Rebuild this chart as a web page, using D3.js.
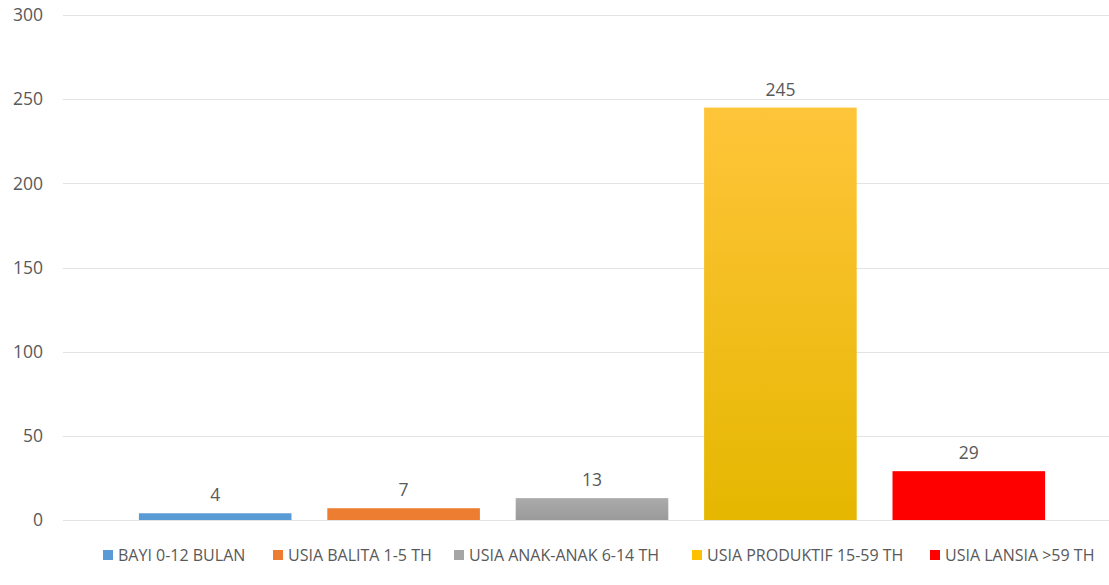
<!DOCTYPE html>
<html>
<head>
<meta charset="utf-8">
<script src="https://cdn.jsdelivr.net/npm/d3@7"></script>
<style>
  body { margin: 0; background: #fff; }
  svg { display: block; font-family: "Open Sans", sans-serif; }
</style>
</head>
<body>
<div id="chart"></div>
<script>
// data
const categories = ["BAYI 0-12 BULAN", "USIA BALITA 1-5 TH", "USIA ANAK-ANAK 6-14 TH", "USIA PRODUKTIF 15-59 TH", "USIA LANSIA >59 TH"]
const values = [4, 7, 13, 245, 29]
const yTicks = [0, 50, 100, 150, 200, 250, 300]

const colors = ["#5B9BD5", "#ED7D31", "#A5A5A5", "#FFC000", "#FF0000"]
// top / bottom of the gradient fills
const gradTop = ["#5B9BD5", "#ED7D31", "#ABABAB", "#FFC53A", "#FF0000"]
const gradBottom = ["#5B9BD5", "#ED7D31", "#9A9A9A", "#E5B700", "#FF0000"]

const width = 1109, height = 585

const svg = d3.select("#chart").append("svg")
    .attr("width", width)
    .attr("height", height)

const defs = svg.append("defs")
categories.forEach(function (c, i) {
    const g = defs.append("linearGradient")
        .attr("id", "grad" + i)
        .attr("x1", 0).attr("y1", 0).attr("x2", 0).attr("y2", 1)
    g.append("stop").attr("offset", "0%").attr("stop-color", gradTop[i])
    g.append("stop").attr("offset", "100%").attr("stop-color", gradBottom[i])
})

const y = d3.scaleLinear()
    .domain([0, 300])
    .range([520, 15])

const x = d3.scaleBand()
    .domain(categories)
    .range([121, 1063])
    .paddingInner(0.19)
    .paddingOuter(0.095)

// gridlines
svg.append("g")
    .selectAll("line")
    .data(yTicks)
    .enter().append("line")
    .attr("x1", 63)
    .attr("x2", width)
    .attr("y1", d => Math.round(y(d)) + 0.5)
    .attr("y2", d => Math.round(y(d)) + 0.5)
    .attr("stroke", "#e3e3e3")
    .attr("stroke-width", 1)

// y axis labels
svg.append("g")
    .selectAll("text")
    .data(yTicks)
    .enter().append("text")
    .attr("x", 43)
    .attr("y", d => y(d))
    .attr("dy", "0.36em")
    .attr("text-anchor", "end")
    .attr("font-size", 17.5)
    .attr("fill", "#595959")
    .text(d => d)

// value labels
svg.append("g")
    .selectAll("text")
    .data(values)
    .enter().append("text")
    .attr("x", (d, i) => x(categories[i]) + x.bandwidth() / 2)
    .attr("y", d => y(d) - 12)
    .attr("text-anchor", "middle")
    .attr("font-size", 17.5)
    .attr("fill", "#595959")
    .text(d => d)

// bars
svg.append("g")
    .selectAll("rect")
    .data(values)
    .enter().append("rect")
    .attr("x", (d, i) => x(categories[i]))
    .attr("width", x.bandwidth())
    .attr("y", d => y(d))
    .attr("height", d => y(0) - y(d))
    .attr("fill", (d, i) => "url(#grad" + i + ")")

// legend
const legendX = [103, 273, 454, 692, 930]
const legend = svg.append("g")
    .selectAll("g")
    .data(categories)
    .enter().append("g")
    .attr("transform", (d, i) => "translate(" + legendX[i] + ",555)")

legend.append("rect")
    .attr("x", 0)
    .attr("y", -5)
    .attr("width", 10)
    .attr("height", 10)
    .attr("fill", (d, i) => colors[i])

legend.append("text")
    .attr("x", 15)
    .attr("y", 0)
    .attr("dy", "0.36em")
    .attr("font-size", 16)
    .attr("fill", "#595959")
    .text(d => d)
</script>
</body>
</html>
